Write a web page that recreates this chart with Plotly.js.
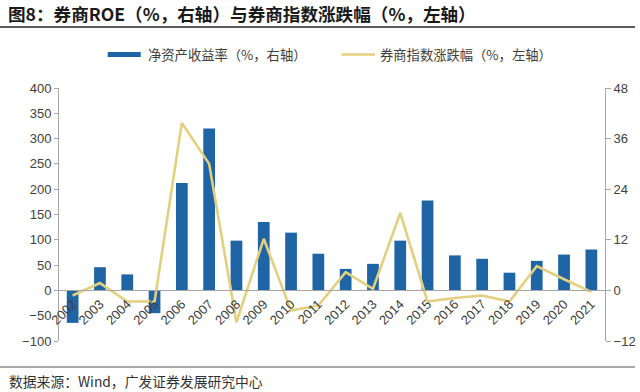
<!DOCTYPE html>
<html>
<head>
<meta charset="utf-8">
<script src="https://cdn.plot.ly/plotly-3.0.1.min.js"></script>
<style>html,body{margin:0;padding:0;background:#fff;}#chart{width:640px;height:392px;}</style>
</head>
<body>
<div id="chart"></div>
<script>
const years = ["2002","2003","2004","2005","2006","2007","2008","2009","2010","2011","2012","2013","2014","2015","2016","2017","2018","2019","2020","2021"];
const roe = [-7.7, 5.5, 3.8, -5.4, 25.5, 38.4, 11.8, 16.2, 13.7, 8.7, 5.1, 6.3, 11.8, 21.3, 8.3, 7.5, 4.2, 7.0, 8.5, 9.7];
const indexChange = [-10, 14.5, -22, -22, 331, 250, -63, 102, -40, -30, 36, 3, 153, -22, -15, -10, -22, 48, 22, -3];
const leftTicks = [-100, -50, 0, 50, 100, 150, 200, 250, 300, 350, 400];
const rightTicks = [-12, 0, 12, 24, 36, 48];
const roeName = "净资产收益率（%，右轴）";
const idxName = "券商指数涨跌幅（%，左轴）";
const titleText = "图8：券商ROE（%，右轴）与券商指数涨跌幅（%，左轴）";
const sourceText = "数据来源：Wind，广发证券发展研究中心";

const barColor = "#1F65A5";
const lineColor = "#E3D07E";
const cjk = "'Noto Sans CJK SC', 'Liberation Sans', sans-serif";
const num = "'Liberation Sans', Arial, sans-serif";

const traces = [
  {type: "bar", x: years, y: roe, name: roeName, yaxis: "y", marker: {color: barColor}, hoverinfo: "x+y"},
  {type: "scatter", mode: "lines", x: years, y: indexChange, name: idxName, yaxis: "y2", line: {color: lineColor, width: 2.6}}
];

const W = 545.7, L = 59.3, H = 253, B = 341;
const px = v => (v - L) / W;
const py = v => (B - v) / H;

const layout = {
  width: 640, height: 392,
  margin: {l: 59.3, r: 35, t: 88, b: 51},
  paper_bgcolor: "#fff", plot_bgcolor: "#fff",
  showlegend: false,
  bargap: 0.57,
  title: {text: titleText, xref: "container", yref: "container", x: 0.0125, xanchor: "left", y: 0.962, yanchor: "middle",
          font: {family: cjk, size: 17.6, color: "#1a1a1a", weight: "bold"}},
  xaxis: {type: "category", anchor: "free", position: 0.2, showline: true, linecolor: "#A6A6A6", linewidth: 1,
          ticks: "", tickangle: -45, tickfont: {family: num, size: 13, color: "#404040"}, showgrid: false, zeroline: false},
  yaxis: {side: "right", range: [-12, 48], tickvals: rightTicks, showgrid: false, zeroline: false,
          showline: true, linecolor: "#A6A6A6", linewidth: 1, ticks: "outside", ticklen: 5, tickcolor: "#A6A6A6",
          tickfont: {family: num, size: 13, color: "#404040"}},
  yaxis2: {side: "left", overlaying: "y", range: [-100, 400], tickvals: leftTicks, showgrid: false, zeroline: false,
           showline: true, linecolor: "#A6A6A6", linewidth: 1, ticks: "outside", ticklen: 4, tickcolor: "#A6A6A6",
           tickfont: {family: num, size: 13, color: "#404040"}},
  shapes: [
    {type: "line", xref: "paper", yref: "paper", x0: px(0), x1: px(635), y0: py(27), y1: py(27), line: {color: "#222", width: 1.5}},
    {type: "line", xref: "paper", yref: "paper", x0: px(0), x1: px(635), y0: py(367), y1: py(367), line: {color: "#555", width: 1}},
    {type: "rect", xref: "paper", yref: "paper", x0: px(108), x1: px(141), y0: py(57), y1: py(52), fillcolor: barColor, line: {width: 0}},
    {type: "line", xref: "paper", yref: "paper", x0: px(341.7), x1: px(375), y0: py(54.5), y1: py(54.5), line: {color: lineColor, width: 2.6}}
  ],
  annotations: [
    {xref: "paper", yref: "paper", x: px(146), y: py(54.5), xanchor: "left", yanchor: "middle", showarrow: false, text: roeName,
     font: {family: cjk, size: 13.3, color: "#404040"}},
    {xref: "paper", yref: "paper", x: px(378), y: py(54.5), xanchor: "left", yanchor: "middle", showarrow: false, text: idxName,
     font: {family: cjk, size: 13.3, color: "#404040"}},
    {xref: "paper", yref: "paper", x: px(7), y: py(381), xanchor: "left", yanchor: "middle", showarrow: false, text: sourceText,
     font: {family: cjk, size: 13.8, color: "#333"}}
  ]
};

Plotly.newPlot("chart", traces, layout, {displayModeBar: false, staticPlot: true});
</script>
</body>
</html>
